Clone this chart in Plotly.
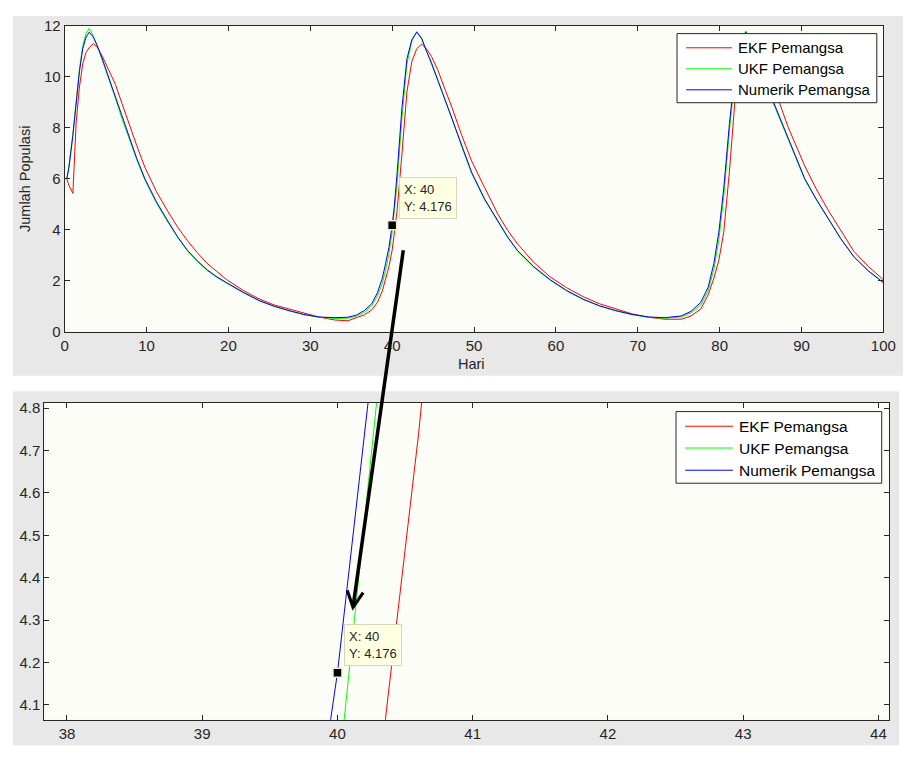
import plotly.graph_objects as go

# The page body has an 8px margin; the figure is sized so it ends at the window edge.
OFF = 8
W, H = 916 - OFF, 761 - OFF

# ---------------- data ----------------
hari = [0.25, 0.5, 1.0, 1.4, 1.8, 2.2, 2.6, 3.0, 3.5, 4.0, 4.6, 5.4, 6.2, 7.0, 7.8, 8.8, 9.8,
        11.2, 12.6, 13.8, 15.0, 16.2, 17.4, 18.6, 19.8, 21.8, 23.8, 25.6, 27.4, 29.2, 31.0,
        33.0, 34.6, 35.6, 36.6, 37.5, 38.2, 38.8, 39.2, 39.6, 40.0, 40.25, 40.6, 41.2, 41.8,
        42.4, 43.0, 43.6, 44.2, 44.8, 45.6, 46.4, 47.3, 48.5, 49.7, 51.3, 52.9, 54.1, 55.3,
        57.3, 59.3, 61.3, 63.3, 65.3, 67.3, 69.3, 71.3, 73.3, 75.3, 76.5, 77.7, 78.6, 79.3,
        79.9, 80.5, 81.2, 81.9, 82.5, 83.2, 83.8, 84.5, 85.4, 86.5, 88.4, 90.4, 91.8, 93.2,
        94.8, 96.4, 98.2, 100.0]

numerik_pemangsa = [6.0, 6.4, 7.7, 9.0, 10.2, 11.1, 11.55, 11.75, 11.55, 11.2, 10.7, 9.95, 9.2,
                    8.4, 7.66, 6.8, 6.0, 5.1, 4.34, 3.72, 3.19, 2.78, 2.43, 2.15, 1.92, 1.55,
                    1.22, 1.0, 0.83, 0.68, 0.58, 0.55, 0.57, 0.65, 0.83, 1.1, 1.53, 2.1, 2.68,
                    3.3, 4.176, 4.88, 6.2, 8.8, 10.7, 11.45, 11.75, 11.5, 11.0, 10.55, 9.85,
                    9.15, 8.43, 7.3, 6.26, 5.2, 4.34, 3.72, 3.19, 2.55, 2.04, 1.62, 1.28, 1.02,
                    0.83, 0.68, 0.58, 0.55, 0.62, 0.8, 1.15, 1.75, 2.68, 3.9, 5.62, 8.17, 10.3,
                    11.35, 11.75, 11.4, 10.8, 9.95, 9.07, 7.54, 6.0, 5.2, 4.47, 3.65, 2.94,
                    2.38, 1.92]

ukf_pemangsa = [6.0, 6.45, 7.75, 9.05, 10.3, 11.2, 11.7, 11.9, 11.6, 11.2, 10.65, 9.9, 9.15,
                8.35, 7.6, 6.75, 5.95, 5.05, 4.3, 3.7, 3.17, 2.76, 2.4, 2.13, 1.9, 1.53, 1.2,
                0.99, 0.82, 0.67, 0.57, 0.52, 0.53, 0.6, 0.76, 1.02, 1.4, 1.9, 2.42, 3.05,
                3.91, 4.69, 5.8, 8.4, 10.5, 11.4, 11.78, 11.52, 11.0, 10.5, 9.8, 9.1, 8.38,
                7.25, 6.22, 5.17, 4.31, 3.7, 3.17, 2.53, 2.02, 1.6, 1.27, 1.01, 0.82, 0.67,
                0.56, 0.53, 0.58, 0.74, 1.05, 1.6, 2.45, 3.6, 5.3, 7.9, 10.1, 11.3, 11.8,
                11.45, 10.8, 9.9, 9.0, 7.5, 5.97, 5.18, 4.46, 3.64, 2.93, 2.37, 1.95]

ekf_pemangsa = [6.0, 5.75, 5.43, 8.2, 9.6, 10.5, 10.95, 11.15, 11.3, 11.15, 10.8, 10.25, 9.7,
                8.95, 8.2, 7.3, 6.45, 5.5, 4.72, 4.1, 3.57, 3.1, 2.68, 2.35, 2.04, 1.62, 1.28,
                1.05, 0.89, 0.72, 0.58, 0.46, 0.43, 0.55, 0.66, 0.85, 1.15, 1.6, 2.05, 2.55,
                3.2, 3.78, 4.74, 7.0, 9.4, 10.6, 11.1, 11.28, 11.1, 10.8, 10.25, 9.55, 8.8,
                7.7, 6.7, 5.65, 4.62, 3.98, 3.45, 2.72, 2.15, 1.73, 1.38, 1.1, 0.89, 0.7,
                0.57, 0.49, 0.49, 0.62, 0.89, 1.45, 2.1, 2.8, 3.9, 6.3, 9.2, 10.5, 11.1,
                11.25, 11.05, 10.5, 9.7, 8.0, 6.5, 5.6, 4.8, 3.95, 3.15, 2.55, 2.04]

series_names = ["EKF Pemangsa", "UKF Pemangsa", "Numerik Pemangsa"]
series_values = [ekf_pemangsa, ukf_pemangsa, numerik_pemangsa]
series_colors = ["#ff0000", "#00ff00", "#0000ff"]

datatip_x = [40]
datatip_y = [4.176]

top_xticks = [0, 10, 20, 30, 40, 50, 60, 70, 80, 90, 100]
top_yticks = [0, 2, 4, 6, 8, 10, 12]
zoom_xticks = [38, 39, 40, 41, 42, 43, 44]
zoom_yticks = [4.1, 4.2, 4.3, 4.4, 4.5, 4.6, 4.7, 4.8]

# ---------------- helpers (window pixel -> paper) ----------------
def px(x):
    return (x - OFF) / W

def py(y):
    return 1 - (y - OFF) / H

FONT = "Liberation Sans, Arial, sans-serif"
TXT = "#262626"
AX = "#262626"

fig = go.Figure()

for name, vals, col in zip(series_names, series_values, series_colors):
    fig.add_trace(go.Scatter(x=hari, y=vals, mode="lines", name=name,
                             line=dict(color=col, width=1), xaxis="x", yaxis="y",
                             showlegend=False, hoverinfo="skip"))
    fig.add_trace(go.Scatter(x=hari, y=vals, mode="lines", name=name,
                             line=dict(color=col, width=1), xaxis="x2", yaxis="y2",
                             showlegend=False, hoverinfo="skip"))

for xa, ya in (("x", "y"), ("x2", "y2")):
    fig.add_trace(go.Scatter(x=datatip_x, y=datatip_y, mode="markers", xaxis=xa, yaxis=ya,
                             marker=dict(symbol="square", size=9, color="black",
                                         line=dict(color="#f3eec8", width=1.5)),
                             showlegend=False, hoverinfo="skip"))

axis_common = dict(showline=True, linecolor=AX, linewidth=1, mirror="ticks",
                   ticks="inside", ticklen=5, tickcolor=AX, showgrid=False,
                   zeroline=False, tickfont=dict(family=FONT, size=15, color=TXT))

fig.update_layout(
    width=W, height=H,
    margin=dict(l=0, r=0, t=0, b=0),
    paper_bgcolor="white",
    plot_bgcolor="rgba(0,0,0,0)",
    showlegend=False,
    xaxis=dict(domain=[px(61.7), px(896)], range=[0, 100], tickvals=top_xticks,
               anchor="y", **axis_common),
    yaxis=dict(domain=[py(330), py(17)], range=[0, 12], tickvals=top_yticks,
               anchor="x", **axis_common),
    xaxis2=dict(domain=[px(41), px(902)], range=[37.833, 44.08], tickvals=zoom_xticks,
                anchor="y2", **axis_common),
    yaxis2=dict(domain=[py(727), py(403)], range=[4.065, 4.812], tickvals=zoom_yticks,
                tickformat=".1f", anchor="x2", **axis_common),
)

shapes = []
# grey window backgrounds
shapes.append(dict(type="rect", xref="paper", yref="paper", x0=px(9), x1=px(916),
                   y0=py(375), y1=py(7), fillcolor="#e8e8e8", line=dict(width=0),
                   layer="below"))
shapes.append(dict(type="rect", xref="paper", yref="paper", x0=px(9), x1=px(912),
                   y0=py(753), y1=py(391), fillcolor="#e8e8e8", line=dict(width=0),
                   layer="below"))
# plot area backgrounds
for xr, yr in (("x domain", "y domain"), ("x2 domain", "y2 domain")):
    shapes.append(dict(type="rect", xref=xr, yref=yr, x0=0, x1=1, y0=0, y1=1,
                       fillcolor="#fdfdf7", line=dict(width=0), layer="below"))

annotations = []

# custom legends
def legend(box, x_line0, x_line1, x_text, rows, fsize):
    x0, y0, x1, y1 = box
    shapes.append(dict(type="rect", xref="paper", yref="paper", x0=px(x0), x1=px(x1),
                       y0=py(y1), y1=py(y0), fillcolor="white",
                       line=dict(color=AX, width=1), layer="above"))
    for name, col, ry in zip(series_names, series_colors, rows):
        shapes.append(dict(type="line", xref="paper", yref="paper", x0=px(x_line0),
                           x1=px(x_line1), y0=py(ry), y1=py(ry),
                           line=dict(color=col, width=1), layer="above"))
        annotations.append(dict(xref="paper", yref="paper", x=px(x_text), y=py(ry),
                                xanchor="left", yanchor="middle", text=name,
                                showarrow=False,
                                font=dict(family=FONT, size=fsize, color="black")))

legend((685.7, 25, 889.3, 95.7), 695, 741.7, 745.5, (39.5, 61, 82.5), 15)
legend((684.7, 411.7, 894.3, 485), 694, 742.7, 746.5, (426.7, 449, 471.7), 15.5)

# data tips
tip_text = f"X: {datatip_x[0]:g}<br>Y: {datatip_y[0]:.3f}"
for xr, yr, xs, ys in (("x", "y", 7, 6), ("x2", "y2", 7, 7)):
    annotations.append(dict(xref=xr, yref=yr, x=datatip_x[0], y=datatip_y[0],
                            xanchor="left", yanchor="bottom", xshift=xs, yshift=ys,
                            text=tip_text, showarrow=False, align="left",
                            bgcolor="#ffffe1", bordercolor="#d6d6bc", borderwidth=1,
                            borderpad=4, font=dict(family=FONT, size=13, color=TXT)))

# axis titles
annotations.append(dict(xref="paper", yref="paper", x=px(22), y=py(174),
                        text="Jumlah Populasi", textangle=-90, showarrow=False,
                        xanchor="center", yanchor="middle",
                        font=dict(family=FONT, size=14.5, color=TXT)))
annotations.append(dict(xref="paper", yref="paper", x=px(476), y=py(363.5),
                        text="Hari", showarrow=False, xanchor="center", yanchor="middle",
                        font=dict(family=FONT, size=14.5, color=TXT)))

# pointer arrow from top tip to zoomed view
annotations.append(dict(xref="paper", yref="paper", x=px(355), y=py(615.5),
                        ax=51, ay=-362, axref="pixel", ayref="pixel", text="",
                        showarrow=True, arrowhead=5, arrowsize=0.9, arrowwidth=3.5,
                        arrowcolor="black", standoff=0))

fig.update_layout(shapes=shapes, annotations=annotations)

fig.write_html("out.html")
